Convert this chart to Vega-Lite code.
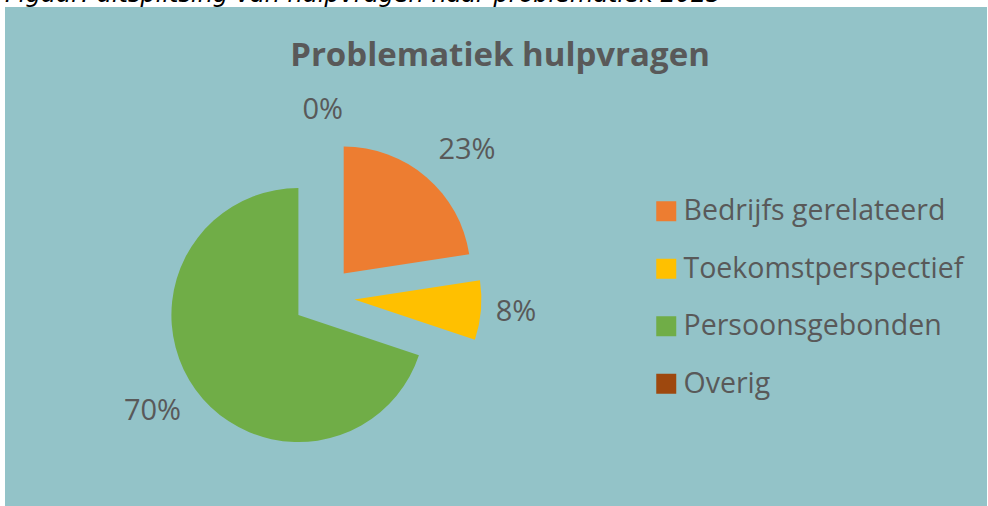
{
  "$schema": "https://vega.github.io/schema/vega-lite/v6.json",
  "background": "white",
  "padding": {"left": 5, "top": -17, "right": 1, "bottom": 0},
  "title": {
    "text": "Figuur: uitsplitsing van hulpvragen naar problematiek 2023",
    "anchor": "start",
    "font": "DejaVu Sans",
    "fontSize": 24,
    "fontStyle": "italic",
    "fontWeight": "normal",
    "color": "black",
    "offset": 0
  },
  "config": {
    "view": {"stroke": null}
  },
  "data": {
    "values": [
      {"cat": "Bedrijfs gerelateerd", "share": 0.2258, "i": 1},
      {"cat": "Toekomstperspectief", "share": 0.0753, "i": 2},
      {"cat": "Persoonsgebonden", "share": 0.6989, "i": 3},
      {"cat": "Overig", "share": 0.0, "i": 4}
    ]
  },
  "vconcat": [
    {
      "width": 982,
      "height": 499,
      "title": {
        "text": "Problematiek hulpvragen",
        "font": "Open Sans",
        "fontSize": 33,
        "fontWeight": "bold",
        "color": "#595959",
        "anchor": "middle",
        "offset": -66,
        "dx": 4
      },
      "layer": [
        {
          "data": {"values": [{}]},
          "mark": {"type": "rect", "color": "#93C3C8", "strokeWidth": 0},
          "encoding": {}
        },
        {
          "mark": {
            "type": "arc",
            "radius": 127,
            "xOffset": {"expr": "datum.cat === 'Bedrijfs gerelateerd' ? -152.3 : datum.cat === 'Toekomstperspectief' ? -141.6 : datum.cat === 'Persoonsgebonden' ? -197.6 : -172.5"},
            "yOffset": {"expr": "datum.cat === 'Bedrijfs gerelateerd' ? 17.0 : datum.cat === 'Toekomstperspectief' ? 43.1 : datum.cat === 'Persoonsgebonden' ? 58.6 : 40.5"}
          },
          "encoding": {
            "theta": {"field": "share", "type": "quantitative", "stack": true},
            "order": {"field": "i", "type": "quantitative"},
            "color": {
              "field": "cat",
              "type": "nominal",
              "scale": {
                "domain": ["Bedrijfs gerelateerd", "Toekomstperspectief", "Persoonsgebonden", "Overig"],
                "range": ["#ED7D31", "#FFC000", "#70AD47", "#9E480E"]
              },
              "legend": {
                "title": null,
                "orient": "none",
                "legendX": 647,
                "legendY": 190,
                "symbolType": "square",
                "symbolSize": 400,
                "symbolStrokeWidth": 0,
                "symbolOpacity": 1,
                "labelFont": "Open Sans",
                "labelFontSize": 28.5,
                "labelColor": "#595959",
                "labelOffset": 3,
                "labelLimit": 400,
                "rowPadding": 28.5,
                "padding": 0
              }
            }
          }
        },
        {
          "mark": {
            "type": "text",
            "radius": 198,
            "font": "Open Sans",
            "fontSize": 29,
            "color": "#595959",
            "xOffset": {"expr": "datum.cat === 'Bedrijfs gerelateerd' ? -158 : datum.cat === 'Toekomstperspectief' ? -177.3 : datum.cat === 'Persoonsgebonden' ? -182.9 : -173.3"},
            "yOffset": {"expr": "datum.cat === 'Bedrijfs gerelateerd' ? 43.9 : datum.cat === 'Toekomstperspectief' ? 38.5 : datum.cat === 'Persoonsgebonden' ? 38.4 : 51.7"}
          },
          "encoding": {
            "theta": {"field": "share", "type": "quantitative", "stack": true},
            "order": {"field": "i", "type": "quantitative"},
            "detail": {"field": "cat", "type": "nominal"},
            "text": {"field": "share", "type": "quantitative", "format": ".0%"}
          }
        }
      ]
    }
  ]
}
